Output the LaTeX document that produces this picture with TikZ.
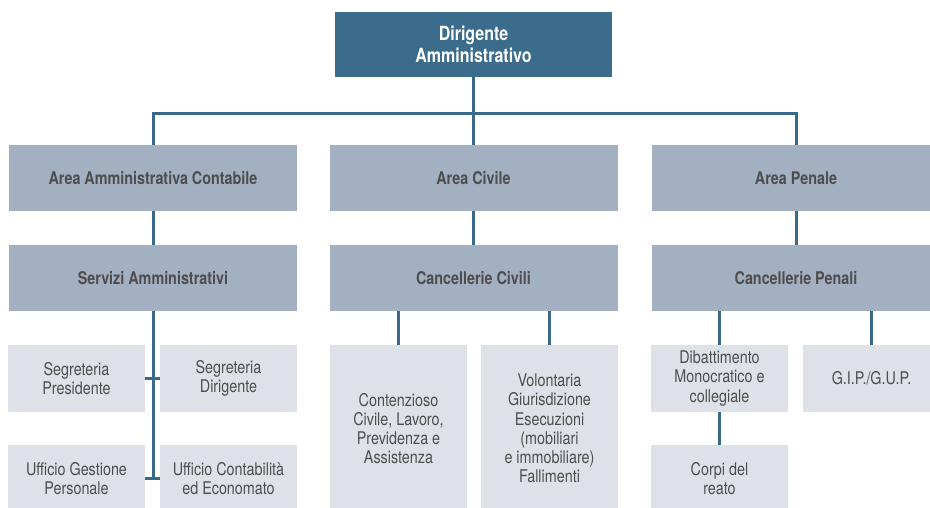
\documentclass[tikz,border=0pt]{standalone}
\usepackage{fontspec}
\setmainfont{TeX Gyre Heros}[FakeStretch=0.82]
\definecolor{dirblu}{HTML}{3B6C8B}
\definecolor{lineblu}{HTML}{3A6889}
\definecolor{areagr}{HTML}{A3B0C1}
\definecolor{uffgr}{HTML}{DEE2E8}
\definecolor{txtgr}{HTML}{4D4D4D}
\begin{document}
\begin{tikzpicture}[x=1pt,y=-1pt,
		dirbox/.style={fill=dirblu,text=white,font=\fontsize{19.5}{22.5}\selectfont\bfseries,align=center,minimum width=277pt,minimum height=65pt,inner sep=0pt},
		areabox/.style={fill=areagr,text=txtgr,font=\fontsize{17.5}{20}\selectfont\bfseries,align=center,minimum width=288pt,minimum height=66pt,inner sep=0pt},
		uffbox/.style={fill=uffgr,text=txtgr,font=\fontsize{17.5}{19.2}\selectfont,align=center,minimum width=137pt,minimum height=67pt,inner sep=0pt},
		conn/.style={draw=lineblu,line width=3pt}]
			\useasboundingbox (0,0) rectangle (930,507);
			\node[dirbox] (d0) at (473.5,44.5){Dirigente\\Amministrativo};
			\coordinate (j0) at (473.5,113);
			% aree e servizi
			\foreach\x/\px/\ta/\ts in {1/153/Area Amministrativa Contabile/Servizi Amministrativi,
				2/473.5/Area Civile/Cancellerie Civili,3/796/Area Penale/Cancellerie Penali}{
				\node[areabox] (a\x) at (\px,178){\ta};
				\node[areabox] (s\x) at (\px,278){\ts};
			}
			\draw[conn] (d0) to (j0);
			\foreach\x in {1,2,3}{
				\draw[conn] (j0) -| (a\x);
				\draw[conn] (a\x) to (s\x);
			}
			% uffici amministrativi
			\node[uffbox] (u1) at (76.5,378.5){Segreteria\\Presidente};
			\node[uffbox] (u2) at (228.5,378.5){Segreteria\\Dirigente};
			\node[uffbox] (u3) at (76.5,478.5){Ufficio Gestione\\Personale};
			\node[uffbox] (u4) at (228.5,478.5){Ufficio Contabilità\\ed Economato};
			\coordinate (k1) at (153,479.5);
			\draw[conn] (s1) to (k1);
			\draw[conn] (u1) to (u2);
			\draw[conn] (u3) to (u4);
			% cancellerie civili
			\node[uffbox,minimum height=167pt] (c1) at (398.5,428.5){Contenzioso\\Civile, Lavoro,\\Previdenza e\\Assistenza};
			\node[uffbox,minimum height=167pt] (c2) at (549.5,428.5){Volontaria\\Giurisdizione\\Esecuzioni\\(mobiliari\\e immobiliare)\\Fallimenti};
			\draw[conn] (c1) to (c1|-s2.south);
			\draw[conn] (c2) to (c2|-s2.south);
			% cancellerie penali
			\node[uffbox] (p1) at (719.5,378.5){Dibattimento\\Monocratico e\\collegiale};
			\node[uffbox] (p2) at (871.5,378.5){G.I.P./G.U.P.};
			\node[uffbox] (p3) at (719.5,478.5){Corpi del\\reato};
			\draw[conn] (p1) to (p1|-s3.south);
			\draw[conn] (p2) to (p2|-s3.south);
			\draw[conn] (p1) to (p3);
		\end{tikzpicture}
\end{document}
